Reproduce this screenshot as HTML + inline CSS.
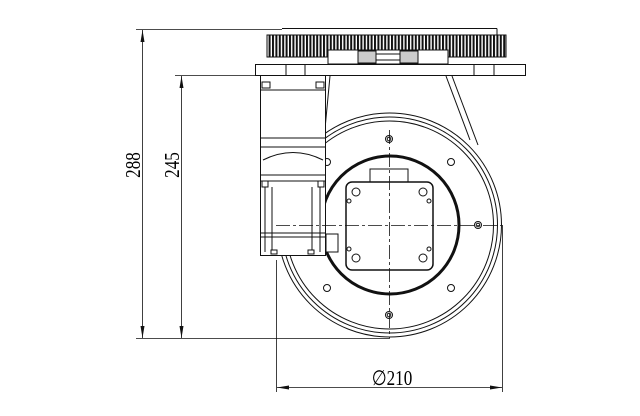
<!DOCTYPE html>
<html><head><style>body{margin:0;background:#fff}svg{display:block}</style></head><body>
<svg width="640" height="416" viewBox="0 0 640 416" xmlns="http://www.w3.org/2000/svg" font-family="Liberation Serif, serif">
<defs>
<pattern id="teeth" x="0" y="0" width="3.4" height="10" patternUnits="userSpaceOnUse"><rect width="2" height="10" fill="#111"/></pattern>
</defs>
<g stroke="#111" fill="none" stroke-width="1">
<line x1="136" y1="29.5" x2="282" y2="29.5" stroke-width="0.8"/>
<line x1="175" y1="75.5" x2="262" y2="75.5" stroke-width="0.8"/>
<line x1="136" y1="338.5" x2="390" y2="338.5" stroke-width="0.8"/>
<line x1="142.5" y1="30" x2="142.5" y2="338" stroke-width="0.8"/>
<line x1="181.5" y1="76" x2="181.5" y2="338" stroke-width="0.8"/>
<line x1="276.5" y1="260" x2="276.5" y2="392" stroke-width="0.8"/>
<line x1="502.5" y1="225" x2="502.5" y2="392" stroke-width="0.8"/>
<line x1="277" y1="387.5" x2="502" y2="387.5" stroke-width="0.8"/>
</g>
<g fill="#111">
<path d="M142.5 30 l-2 12 h4z M142.5 338 l-2 -12 h4z M181.5 76 l-2 12 h4z M181.5 338 l-2 -12 h4z M277 387.5 l12 -2 v4z M502 387.5 l-12 -2 v4z"/>
</g>
<text x="0" y="0" font-size="19" transform="translate(140,165) rotate(-90) scale(0.9,1.1)" text-anchor="middle">288</text>
<text x="0" y="0" font-size="19" transform="translate(179,165) rotate(-90) scale(0.9,1.1)" text-anchor="middle">245</text>
<text x="0" y="0" font-size="19" transform="translate(392,385) scale(0.9,1.1)" text-anchor="middle">∅210</text>

<g stroke="#111" fill="#fff" stroke-width="1">
<line x1="282" y1="28.5" x2="497" y2="28.5"/>
<line x1="497" y1="28.5" x2="497" y2="35"/>
<rect x="267" y="35" width="239" height="22" fill="url(#teeth)"/>
<rect x="267" y="35" width="239" height="22" fill="none"/>
<rect x="328" y="50" width="120" height="14"/>
<rect x="358" y="51" width="18" height="12" fill="#ccc"/>
<rect x="400" y="51" width="18" height="12" fill="#ccc"/>
<rect x="376" y="54" width="24" height="6"/>
<rect x="255.5" y="64.5" width="270" height="11"/>
<line x1="286" y1="64" x2="286" y2="75"/><line x1="305" y1="64" x2="305" y2="75"/><line x1="474" y1="64" x2="474" y2="75"/><line x1="494" y1="64" x2="494" y2="75"/>
<line x1="330" y1="76" x2="323" y2="150" fill="none"/>
<line x1="446" y1="76" x2="470" y2="140" fill="none"/>
<line x1="452" y1="76" x2="478" y2="145" fill="none"/>
<circle cx="389.5" cy="225" r="112"/>
<circle cx="389.5" cy="225" r="108" fill="none"/>
<circle cx="389.5" cy="225" r="104" fill="none"/>
<circle cx="390" cy="225" r="69" stroke-width="3" fill="#fff"/>
<g fill="#fff">
<circle cx="389" cy="139" r="3.5"/><circle cx="389" cy="139" r="1.8"/>
<circle cx="478" cy="225" r="3.5"/><circle cx="478" cy="225" r="1.8"/>
<circle cx="389" cy="315" r="3.5"/><circle cx="389" cy="315" r="1.8"/>
<circle cx="451" cy="162" r="3.5"/><circle cx="451" cy="288" r="3.5"/>
<circle cx="327" cy="288" r="3.5"/><circle cx="327" cy="162" r="3.5"/>
</g>
<rect x="370" y="169" width="38" height="13"/>
<rect x="346" y="182" width="87" height="88" rx="6" stroke-width="1.5"/>
<g>
<circle cx="356" cy="192" r="4"/><circle cx="423" cy="192" r="4"/><circle cx="356" cy="258" r="4"/><circle cx="423" cy="258" r="4"/>
<circle cx="349" cy="201" r="2"/><circle cx="429" cy="201" r="2"/><circle cx="349" cy="249" r="2"/><circle cx="429" cy="249" r="2"/>
</g>
<rect x="260.5" y="75.5" width="65" height="180" fill="#fff"/>
<rect x="262" y="82" width="8" height="6" fill="#fff"/>
<rect x="316" y="82" width="8" height="6" fill="#fff"/>
<line x1="260" y1="90" x2="326" y2="90"/>
<line x1="260" y1="138" x2="326" y2="138"/>
<line x1="260" y1="147" x2="326" y2="147"/>
<path d="M263 160 Q293 145 323 160" fill="none"/>
<line x1="260" y1="175" x2="326" y2="175"/>
<line x1="260" y1="181" x2="326" y2="181"/>
<rect x="262" y="181" width="6" height="6"/><rect x="318" y="181" width="6" height="6"/>
<line x1="265" y1="187" x2="265" y2="252"/><line x1="272" y1="187" x2="272" y2="252"/>
<line x1="312" y1="187" x2="312" y2="252"/><line x1="320" y1="187" x2="320" y2="252"/>
<line x1="260" y1="233" x2="326" y2="233"/><line x1="260" y1="237" x2="326" y2="237"/>
<rect x="326" y="234" width="12" height="18"/>
<rect x="271" y="250" width="6" height="4"/><rect x="308" y="250" width="6" height="4"/>
</g>
<g stroke="#111" stroke-width="0.8" stroke-dasharray="14,3,3,3" fill="none">
<line x1="389.5" y1="130" x2="389.5" y2="338"/>
<line x1="276" y1="225.5" x2="502" y2="225.5"/>
</g>
</svg>
</body></html>
